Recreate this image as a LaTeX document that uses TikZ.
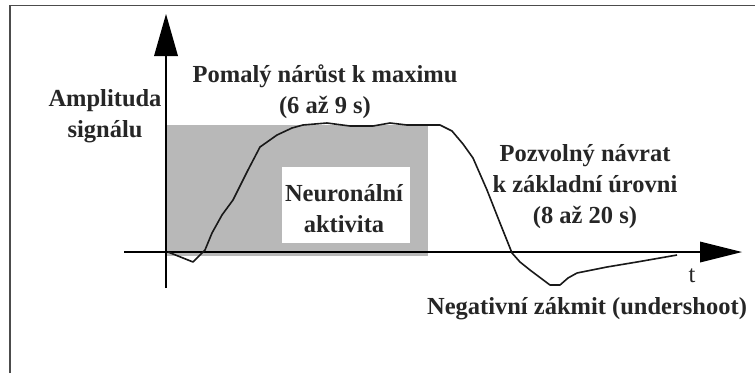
\documentclass[tikz,border=0pt]{standalone}
\usepackage{fontspec}
\setmainfont{Liberation Serif}
\begin{document}
\begin{tikzpicture}[x=1pt,y=-1pt,
  lbl/.style={font=\fontsize{24.5}{31}\selectfont\bfseries, text=black!85, align=center, inner sep=0pt},
  axis/.style={line width=2.2pt, black},
  curve/.style={line width=1.6pt, black!90, line join=round}]
\useasboundingbox (0,0) rectangle (755,373);
\fill[white] (0,0) rectangle (755,373);
% frame
\draw[line width=1.6pt, black!70] (10,373) -- (10,5.5) -- (755,5.5);
% shaded activity
\fill[black!28] (166,125) rectangle (428,256);
\fill[white] (282,167) rectangle (410,243);
\node[lbl] (neur) at (344,209) {Neuronální\\aktivita};
% axes
\coordinate (yb) at (166,288);
\coordinate (yt) at (166,14);
\coordinate (xl) at (124,252);
\coordinate (xr) at (742,252);
\draw[axis] (yb) -- (166,56);
\fill (yt) -- (154,56) -- (178,56) -- cycle;
\draw[axis] (xl) -- (702,252);
\fill (xr) -- (700,241.5) -- (700,262.5) -- cycle;
% curve
\draw[curve] (168,252) -- (193,262) -- (205,250) -- (212,233) -- (222,215) -- (233,200) -- (248,170) -- (260,147)
  -- (277,135) -- (292,128) -- (303,125) -- (327,123) -- (350,126) -- (373,126) -- (390,123) -- (407,125) -- (440,125)
  -- (452,131) -- (463,144) -- (473,158) -- (487,190) -- (500,223) -- (512,253) -- (520,262) -- (530,270)
  -- (550,285) -- (560,285) -- (568,278) -- (577,273) -- (607,267) -- (637,262) -- (677,255);
% labels
\node[lbl] (ampl) at (105,116) {Amplituda\\signálu};
\node[lbl] (rise) at (325,92) {Pomalý nárůst k maximu\\(6 až 9 s)};
\node[lbl] (ret) at (585,187) {Pozvolný návrat\\k základní úrovni\\(8 až 20 s)};
\node[lbl] (neg) at (587,309) {Negativní zákmit (undershoot)};
\node[font=\fontsize{24.5}{28}\selectfont, text=black!85, inner sep=0pt] (t) at (692,276) {t};
\end{tikzpicture}
\end{document}
